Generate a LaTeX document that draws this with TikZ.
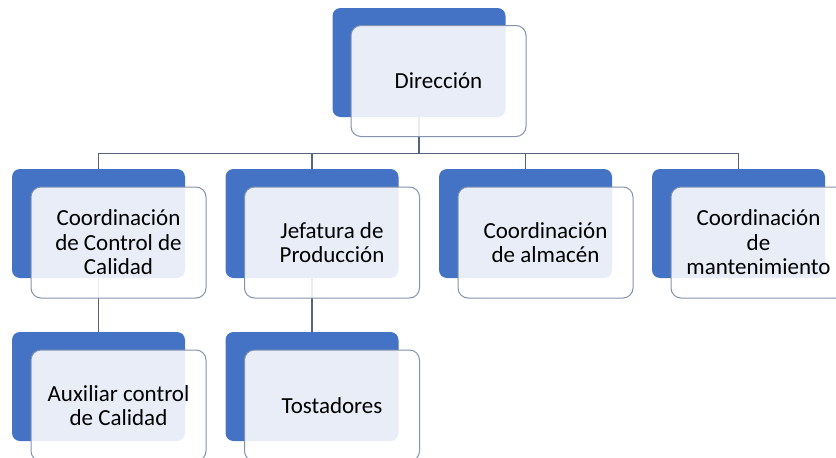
\documentclass[tikz,border=0pt]{standalone}
\usepackage{fontspec}
\setmainfont{Carlito}
\usepackage{tikz}
\definecolor{boxblue}{HTML}{4472C4}
\definecolor{edgegrey}{HTML}{8393AD}
\definecolor{linegrey}{HTML}{56647E}

\begin{document}
\begin{tikzpicture}[x=1pt,y=-1pt,
	back/.style={fill=boxblue,rounded corners=8pt,minimum width=173pt,minimum height=109pt,inner sep=0pt},
	front/.style={draw=edgegrey,line width=1pt,fill=white,fill opacity=.88,text opacity=1,rounded corners=10pt,
		minimum width=175pt,minimum height=111pt,inner sep=0pt,align=center,font=\fontsize{23}{24.5}\selectfont},
	conn/.style={draw=linegrey,line width=1.1pt}]
	\useasboundingbox (0,0) rectangle (836,458);
	\clip (0,0) rectangle (836,458);
	\node[back] (dirB) at (419,62.5) {};
	\node[back] (calB) at (98.5,223.5) {};
	\node[back] (jefB) at (312,223.5) {};
	\node[back] (almB) at (525.5,223.5) {};
	\node[back] (manB) at (738.5,223.5) {};
	\node[back] (auxB) at (98.5,386.5) {};
	\node[back] (tosB) at (312,386.5) {};
	\draw[conn] (dirB.south) -- ++(0,36) -| (calB.north);
	\draw[conn] (dirB.south) -- ++(0,36) -| (jefB.north);
	\draw[conn] (dirB.south) -- ++(0,36) -| (almB.north);
	\draw[conn] (dirB.south) -- ++(0,36) -| (manB.north);
	\draw[conn] (calB.south) -- (auxB.north);
	\draw[conn] (jefB.south) -- (tosB.north);
	\node[front] (dir) at (438.5,81) {Dirección};
	\node[front] (cal) at (118.5,242.5) {Coordinación\\de Control de\\Calidad};
	\node[front] (jef) at (332,242.5) {Jefatura de\\Producción};
	\node[front] (alm) at (545.5,242.5) {Coordinación\\de almacén};
	\node[front] (man) at (758.5,242.5) {Coordinación\\de\\mantenimiento};
	\node[front] (aux) at (118.5,405.5) {Auxiliar control\\de Calidad};
	\node[front] (tos) at (332,405.5) {Tostadores};
\end{tikzpicture}
\end{document}
